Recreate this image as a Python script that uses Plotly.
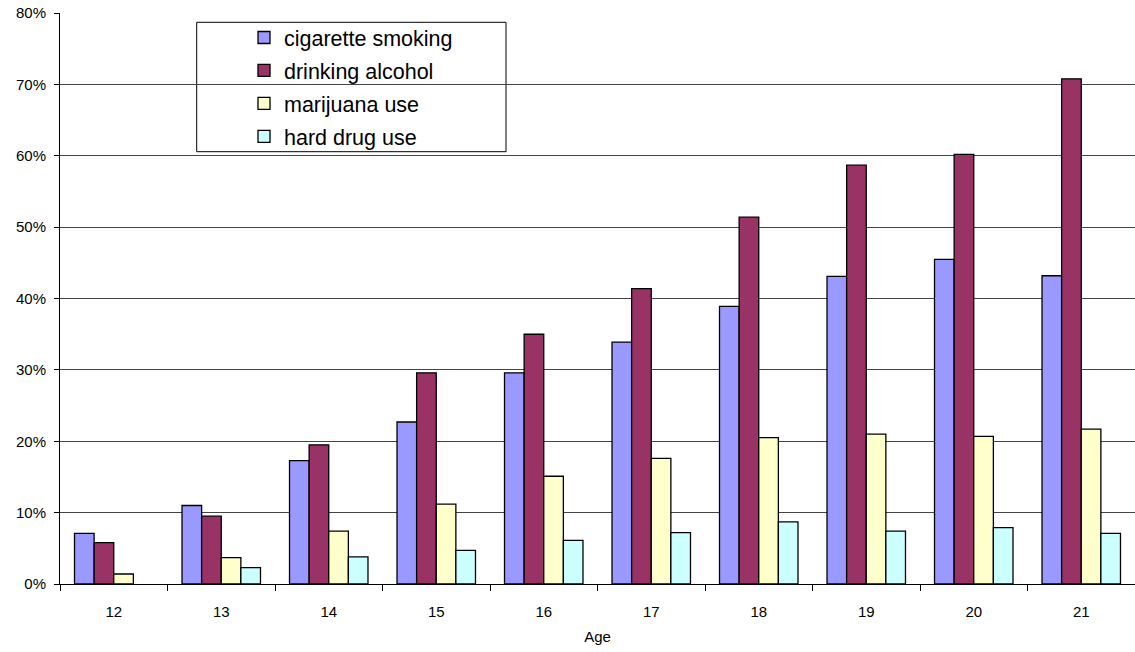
import plotly.graph_objects as go

ages = ["12", "13", "14", "15", "16", "17", "18", "19", "20", "21"]
cigarette = [7.1, 11.0, 17.3, 22.7, 29.6, 33.9, 38.9, 43.1, 45.5, 43.2]
alcohol = [5.8, 9.5, 19.5, 29.6, 35.0, 41.4, 51.4, 58.7, 60.2, 70.8]
marijuana = [1.4, 3.7, 7.4, 11.2, 15.1, 17.6, 20.5, 21.0, 20.7, 21.7]
hard_drug = [None, 2.3, 3.8, 4.7, 6.1, 7.2, 8.7, 7.4, 7.9, 7.1]

y_ticks = [0.0, 0.1, 0.2, 0.3, 0.4, 0.5, 0.6, 0.7, 0.8]
y_tick_labels = ["0%", "10%", "20%", "30%", "40%", "50%", "60%", "70%", "80%"]

series_names = ["cigarette smoking", "drinking alcohol", "marijuana use", "hard drug use"]
series_values = [cigarette, alcohol, marijuana, hard_drug]
colors = ["#9999FF", "#993366", "#FFFFCC", "#CCFFFF"]

FONT = "Arial, Liberation Sans, sans-serif"

# plot area in window coords: x 60..1135, y 13..584
PX0, PW, PY0, PH = 60, 1075, 584, 571


def px(xw):
    return (xw - PX0) / PW


def py(yw):
    return (PY0 - yw) / PH


fig = go.Figure()
for name, vals, col in zip(series_names, series_values, colors):
    fig.add_trace(go.Bar(
        x=ages, y=[None if v is None else v / 100 for v in vals], name=name, legendgroup=name,
        marker=dict(color=col, line=dict(color="black", width=1.3)),
    ))

fig.update_layout(
    width=1135, height=652,
    margin=dict(l=60, r=0, t=13, b=68, autoexpand=False),
    paper_bgcolor="white", plot_bgcolor="white",
    barmode="group", bargap=0.27, bargroupgap=0,
    font=dict(family=FONT, size=15, color="black"),
    showlegend=True,
    legend=dict(
        x=px(244), y=py(17), xanchor="left", yanchor="top",
        bgcolor="rgba(0,0,0,0)", borderwidth=0,
        font=dict(family=FONT, size=21.5, color="black"),
        tracegroupgap=2, traceorder="grouped",
    ),
    shapes=[dict(type="rect", xref="paper", yref="paper",
                 x0=px(196.7), x1=px(506),
                 y0=py(151.7), y1=py(22.3),
                 line=dict(color="black", width=1), fillcolor="white", layer="below")],
    xaxis=dict(
        title=dict(text="Age", font=dict(size=15), standoff=12),
        showline=True, linecolor="black", linewidth=1, automargin=False,
        ticks="outside", ticklen=6, tickcolor="black", tickson="boundaries",
        showgrid=False, tickfont=dict(size=15), ticklabelstandoff=14,
    ),
    yaxis=dict(
        range=[0, 0.8002], tickmode="array", tickvals=y_ticks, ticktext=y_tick_labels,
        automargin=False, ticklabeloverflow="allow",
        showline=True, linecolor="black", linewidth=1,
        ticks="outside", ticklen=5, tickcolor="black",
        showgrid=True, gridcolor="#444444", gridwidth=1,
        tickfont=dict(size=15), zeroline=False, ticklabelstandoff=5,
    ),
)

fig.write_html("out.html", config={"displayModeBar": False},
               post_script="document.body.style.margin='0';")
